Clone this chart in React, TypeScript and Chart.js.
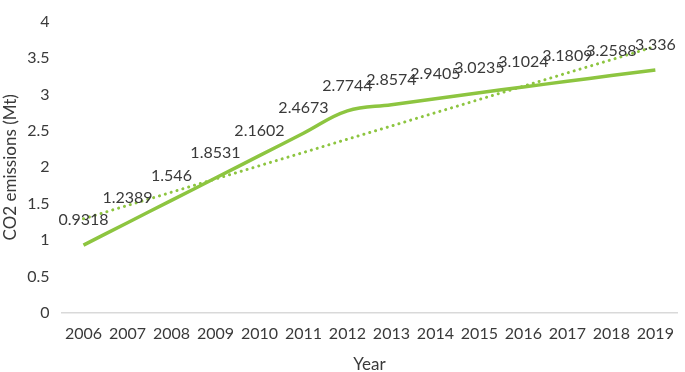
import React, { useEffect, useRef } from "react";
import { Chart, registerables } from "chart.js";

Chart.register(...registerables);

const years = ["2006", "2007", "2008", "2009", "2010", "2011", "2012", "2013", "2014", "2015", "2016", "2017", "2018", "2019"];
const emissions = [0.9318, 1.2389, 1.546, 1.8531, 2.1602, 2.4673, 2.7744, 2.8574, 2.9405, 3.0235, 3.1024, 3.1809, 3.2588, 3.336];
const emissionLabels = ["0.9318", "1.2389", "1.546", "1.8531", "2.1602", "2.4673", "2.7744", "2.8574", "2.9405", "3.0235", "3.1024", "3.1809", "3.2588", "3.336"];
const trendStart = 1.294;
const trendEnd = 3.659;
const yTicks = [0, 0.5, 1, 1.5, 2, 2.5, 3, 3.5, 4];
const yTickLabels = ["0", "0.5", "1", "1.5", "2", "2.5", "3", "3.5", "4"];

const GREEN = "#8DC540";
const TEXT = "#3A3A3A";
const FONT = "Lato";

const trend = years.map((_, i) => (i === 0 ? trendStart : i === years.length - 1 ? trendEnd : null));

const labelPlugin = {
  id: "dataLabels",
  afterDatasetsDraw(chart: any) {
    const ctx = chart.ctx;
    const meta = chart.getDatasetMeta(0);
    ctx.save();
    ctx.font = `16px ${FONT}`;
    ctx.fillStyle = TEXT;
    ctx.textAlign = "center";
    ctx.textBaseline = "middle";
    meta.data.forEach((el: any, i: number) => {
      ctx.fillText(emissionLabels[i], el.x, el.y - 25);
    });
    ctx.restore();
  },
};

export default function App() {
  const ref = useRef<HTMLCanvasElement | null>(null);
  useEffect(() => {
    document.body.style.margin = "0";
    const chart = new Chart(ref.current!, {
      type: "line",
      data: {
        labels: years,
        datasets: [
          {
            data: emissions,
            borderColor: GREEN,
            borderWidth: 3.5,
            pointRadius: 0,
            tension: 0.4,
            fill: false,
          },
          {
            data: trend,
            borderColor: GREEN,
            borderWidth: 3,
            borderDash: [0.1, 6],
            borderCapStyle: "round",
            pointRadius: 0,
            spanGaps: true,
            fill: false,
          },
        ],
      },
      options: {
        animation: false,
        responsive: false,
        layout: { padding: { left: 0, right: 2.5, top: 6, bottom: 0 } },
        plugins: { legend: { display: false }, tooltip: { enabled: false } },
        scales: {
          x: {
            offset: true,
            grid: { display: false, drawTicks: false },
            border: { display: true, color: "#D9D9D9", width: 1.5 },
            ticks: { color: TEXT, font: { family: FONT, size: 16 }, padding: 11, maxRotation: 0, autoSkip: false },
            title: { display: true, text: "Year", color: TEXT, font: { family: FONT, size: 17, lineHeight: 1 }, padding: { top: 0, bottom: -1.5 } },
            afterFit: (s: any) => {
              s.height = 59;
            },
          },
          y: {
            min: 0,
            max: 4,
            afterBuildTicks: (s: any) => {
              s.ticks = yTicks.map((v) => ({ value: v }));
            },
            grid: { display: false, drawTicks: false },
            border: { display: false },
            ticks: {
              color: TEXT,
              font: { family: FONT, size: 16 },
              padding: 12,
              callback: (_v: any, i: number) => yTickLabels[i],
            },
            title: { display: true, text: "CO2 emissions (Mt)", color: TEXT, font: { family: FONT, size: 17, lineHeight: 1 }, padding: { top: 2, bottom: 0 } },
            afterFit: (s: any) => {
              s.width = 61.5;
            },
          },
        },
      },
      plugins: [labelPlugin],
    });
    return () => chart.destroy();
  }, []);
  return (
    <div style={{ width: 685, height: 372 }}>
      <canvas ref={ref} width={685} height={372} style={{ display: "block" }} />
    </div>
  );
}
